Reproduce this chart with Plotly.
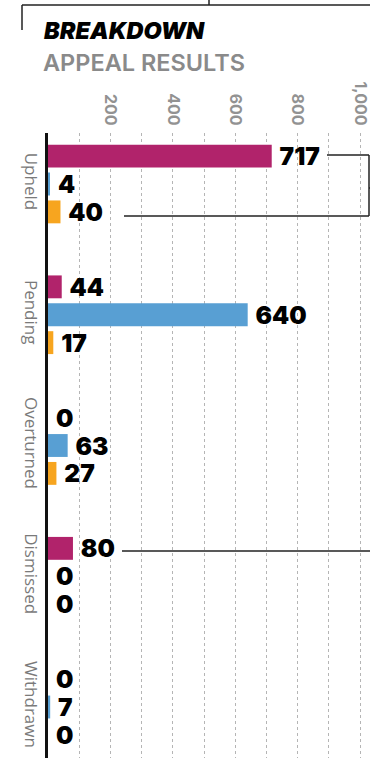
import plotly.graph_objects as go

categories = ["Upheld", "Pending", "Overturned", "Dismissed", "Withdrawn"]
series_a = [717, 44, 0, 80, 0]     # magenta
series_b = [4, 640, 63, 0, 7]      # blue
series_c = [40, 17, 27, 0, 0]      # orange
colors = ["#B1236B", "#589FD3", "#F7A51F"]
tick_values = [0, 100, 200, 300, 400, 500, 600, 700, 800, 900, 1000]
tick_labels = ["", "", "200", "", "400", "", "600", "", "800", "", "1,000"]

W, H = 370, 758
ML, MT = 48, 133
PW, PH = W - ML, H - MT

def px(x):
    return (x - ML) / PW

def py(y):
    return (H - y) / PH

NUM_FONT = dict(family="Inter, DejaVu Sans", size=24.5, color="#000000", weight=900)

fig = go.Figure()
for vals, col in zip([series_a, series_b, series_c], colors):
    fig.add_trace(go.Bar(
        y=categories, x=vals, orientation="h",
        marker=dict(color=col, line=dict(width=0)),
        text=["\u00a0" + str(v) for v in vals],
        textposition="outside", cliponaxis=False, constraintext="none",
        textfont=NUM_FONT,
        showlegend=False, hoverinfo="skip",
    ))

fig.update_layout(
    width=W, height=H,
    margin=dict(l=ML, r=0, t=MT, b=0, autoexpand=False),
    paper_bgcolor="white", plot_bgcolor="white",
    barmode="group", bargap=0.36, bargroupgap=0.18,
    xaxis=dict(
        side="top", range=[0, 1032], automargin=False,
        tickvals=tick_values, ticktext=tick_labels, tickangle=90,
        ticklabeloverflow="allow",
        tickfont=dict(family="Inter", size=16, color="#929292", weight=700),
        showgrid=True, gridcolor="#b5b5b5", griddash="dot", gridwidth=1,
        zeroline=False, showline=False, ticks="", ticklabelstandoff=4,
    ),
    yaxis=dict(
        range=[4.39, -0.39], tickangle=90, automargin=False,
        tickfont=dict(family="Open Sans", size=17, color="#7a7a7a"),
        showline=True, linecolor="#111111", linewidth=2.5,
        showgrid=False, zeroline=False, ticks="", ticklabelstandoff=0,
    ),
)

line = dict(color="#222222", width=1.5)
shapes = [
    # top bracket
    dict(x0=px(22), x1=px(371), y0=py(5), y1=py(5)),
    dict(x0=px(22), x1=px(22), y0=py(5), y1=py(30)),
    dict(x0=px(209), x1=px(209), y0=py(-1), y1=py(5)),
    # upheld bracket
    dict(x0=px(327), x1=px(369), y0=py(155), y1=py(155)),
    dict(x0=px(369), x1=px(369), y0=py(155), y1=py(216)),
    dict(x0=px(124), x1=px(369), y0=py(216), y1=py(216)),
    dict(x0=px(369), x1=px(372), y0=py(188), y1=py(188)),
    # dismissed line
    dict(x0=px(122), x1=px(372), y0=py(551), y1=py(551)),
]
for s in shapes:
    fig.add_shape(type="line", xref="paper", yref="paper", line=line, **s)

fig.add_annotation(xref="paper", yref="paper", x=px(42), y=py(31),
                   xanchor="left", yanchor="middle", showarrow=False,
                   text="<i>BREAKDOWN</i>",
                   font=dict(family="Inter, DejaVu Sans", size=23.5, color="#000000", weight=900))
fig.add_annotation(xref="paper", yref="paper", x=px(41), y=py(63),
                   xanchor="left", yanchor="middle", showarrow=False,
                   text="APPEAL RESULTS",
                   font=dict(family="Inter", size=23.5, color="#8a8a8a", weight=600))

fig.write_html(
    "out.html",
    config={"displayModeBar": False},
    post_script="document.body.style.margin='0';document.body.style.overflow='hidden';",
)
